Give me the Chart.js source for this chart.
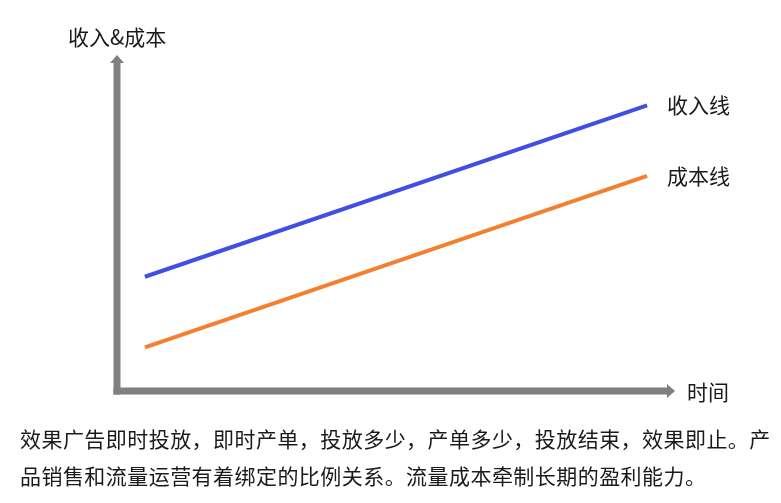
<!DOCTYPE html>
<html lang="zh-CN">
<head>
<meta charset="utf-8">
<title>收入&amp;成本</title>
<script src="https://cdn.jsdelivr.net/npm/chart.js@4/dist/chart.umd.min.js"></script>
<style>
  html, body { margin: 0; padding: 0; background: #ffffff; }
  #wrap { position: relative; width: 781px; height: 503px; overflow: hidden; }
  #chart { position: absolute; left: 0; top: 0; }
  #caption {
    position: absolute; left: 20px; top: 420px; width: 761px;
    font-family: "Noto Sans CJK SC", "Noto Sans", sans-serif;
    font-size: 21px; line-height: 37px; color: #1a1a1a;
    letter-spacing: 0.45px; white-space: nowrap;
  }
</style>
</head>
<body>
<div id="wrap">
  <canvas id="chart" width="781" height="503"></canvas>
  <div id="caption">效果广告即时投放，即时产单，投放多少，产单多少，投放结束，效果即止。产<br>品销售和流量运营有着绑定的比例关系。流量成本牵制长期的盈利能力。</div>
</div>
<script>
// Time positions of the two line ends
const timePoints = [0.5, 9.5];
// Revenue and cost along time
const revenue = [3.4, 8.5];
const cost = [1.3, 6.4];
// Series names, drawn at each line's end
const seriesNames = ['收入线', '成本线'];
// Axis titles
const yTitle = '收入&成本';
const xTitle = '时间';

const FONT = '21px "Noto Sans CJK SC", "Noto Sans", sans-serif';
const TEXT_COLOR = '#1a1a1a';
const AXIS_COLOR = '#808080';

// Gray axes with arrowheads, drawn from the scales' own extents
const arrowAxes = {
  id: 'arrowAxes',
  beforeDatasetsDraw(chart) {
    const { ctx, scales: { x, y } } = chart;
    const ox = x.getPixelForValue(0);
    const oy = y.getPixelForValue(0);
    const xEnd = x.getPixelForValue(x.max);
    const yEnd = y.getPixelForValue(y.max);
    const w = 7, head = 8, half = 7;
    ctx.save();
    ctx.fillStyle = AXIS_COLOR;
    // vertical axis shaft
    ctx.fillRect(ox - w / 2, yEnd + head, w, oy + w / 2 - (yEnd + head));
    // horizontal axis shaft
    ctx.fillRect(ox - w / 2, oy - w / 2, xEnd - head - (ox - w / 2), w);
    // up arrowhead
    ctx.beginPath();
    ctx.moveTo(ox, yEnd);
    ctx.lineTo(ox - half, yEnd + head);
    ctx.lineTo(ox + half, yEnd + head);
    ctx.closePath();
    ctx.fill();
    // right arrowhead
    ctx.beginPath();
    ctx.moveTo(xEnd, oy);
    ctx.lineTo(xEnd - head, oy - half);
    ctx.lineTo(xEnd - head, oy + half);
    ctx.closePath();
    ctx.fill();
    ctx.restore();
  },
  afterDatasetsDraw(chart) {
    const { ctx, scales: { x, y } } = chart;
    ctx.save();
    ctx.font = FONT;
    ctx.fillStyle = TEXT_COLOR;
    ctx.textBaseline = 'middle';
    ctx.textAlign = 'left';
    // series labels after the last point of each line
    chart.data.datasets.forEach((ds, i) => {
      const meta = chart.getDatasetMeta(i);
      const last = meta.data[meta.data.length - 1];
      ctx.fillText(seriesNames[i], last.x + 20, last.y);
    });
    // axis titles
    const ox = x.getPixelForValue(0);
    const oy = y.getPixelForValue(0);
    ctx.fillText(yTitle, ox - 49, y.getPixelForValue(y.max) - 18);
    ctx.fillText(xTitle, x.getPixelForValue(x.max) + 12, oy + 1);
    ctx.restore();
  }
};

new Chart(document.getElementById('chart'), {
  type: 'line',
  data: {
    datasets: [
      {
        label: seriesNames[0],
        data: timePoints.map((t, i) => ({ x: t, y: revenue[i] })),
        borderColor: '#3f4fe3',
        borderWidth: 4,
        borderCapStyle: 'butt',
        pointRadius: 0,
        fill: false
      },
      {
        label: seriesNames[1],
        data: timePoints.map((t, i) => ({ x: t, y: cost[i] })),
        borderColor: '#f47f2f',
        borderWidth: 4,
        borderCapStyle: 'butt',
        pointRadius: 0,
        fill: false
      }
    ]
  },
  options: {
    responsive: false,
    animation: false,
    layout: { padding: { left: 117, right: 106, top: 55, bottom: 112 } },
    scales: {
      x: { type: 'linear', min: 0, max: 10, display: false },
      y: { type: 'linear', min: 0, max: 10, display: false }
    },
    plugins: {
      legend: { display: false },
      tooltip: { enabled: false }
    }
  },
  plugins: [arrowAxes]
});
</script>
</body>
</html>
